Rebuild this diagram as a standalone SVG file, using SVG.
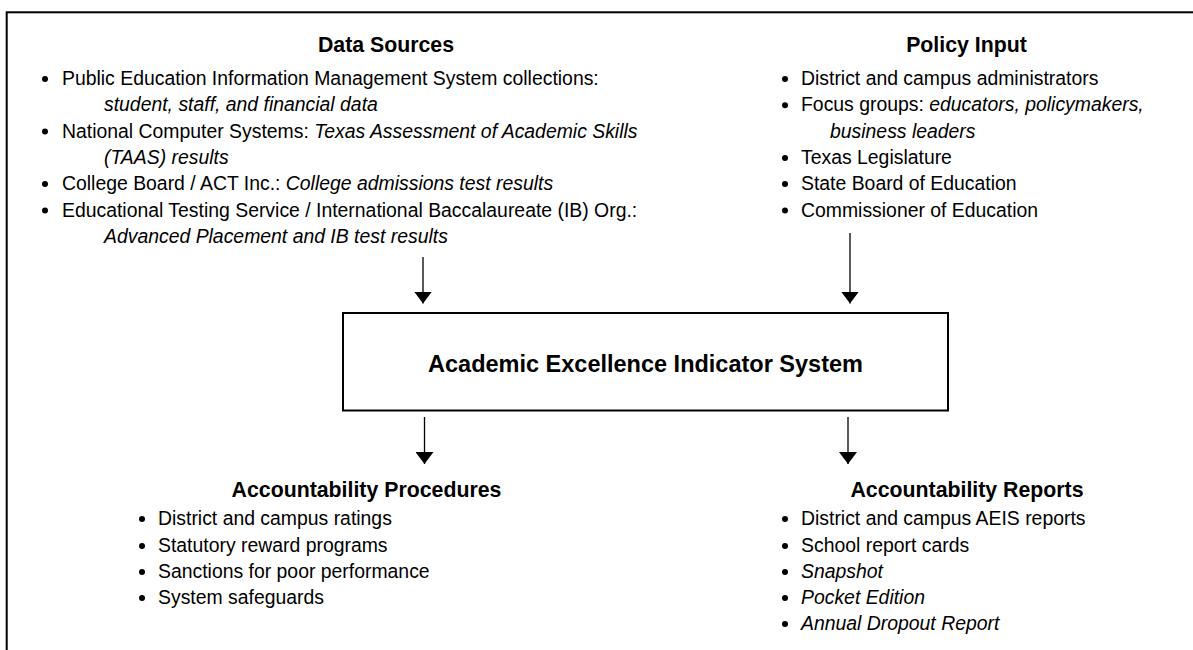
<svg xmlns="http://www.w3.org/2000/svg" width="1193" height="650" viewBox="0 0 1193 650">
<style>
text{font-family:"Liberation Sans",Arial,sans-serif;fill:#000}
.h{font-size:21.3px;font-weight:bold;text-anchor:middle}
.t{font-size:19.4px}
.i{font-style:italic}
.b{fill:#000}
.con{stroke:#000;stroke-width:1.3;fill:none}
</style>
<defs>
<marker id="ah" viewBox="0 0 12 18" refX="12" refY="9" markerWidth="12" markerHeight="18" markerUnits="userSpaceOnUse" orient="auto">
<path d="M0,0 L12,9 L0,18 Z" fill="#000"/>
</marker>
</defs>
<rect x="0" y="0" width="1193" height="650" fill="#fff"/>
<rect x="6.7" y="12.3" width="1250" height="700" fill="none" stroke="#000" stroke-width="2"/>

<g id="data-sources">
<text class="h" x="386" y="51.5">Data Sources</text>
<circle class="b" cx="45" cy="79" r="3"/>
<text class="t" x="62" y="85">Public Education Information Management System collections:</text>
<text class="t i" x="104" y="111.3">student, staff, and financial data</text>
<circle class="b" cx="45" cy="131.6" r="3"/>
<text class="t" x="62" y="137.6">National Computer Systems: <tspan class="i">Texas Assessment of Academic Skills</tspan></text>
<text class="t i" x="104" y="164">(TAAS) results</text>
<circle class="b" cx="45" cy="184" r="3"/>
<text class="t" x="62" y="190">College Board / ACT Inc.: <tspan class="i">College admissions test results</tspan></text>
<circle class="b" cx="45" cy="210.5" r="3"/>
<text class="t" x="62" y="216.5">Educational Testing Service / International Baccalaureate (IB) Org.:</text>
<text class="t i" x="104" y="243">Advanced Placement and IB test results</text>
</g>

<g id="policy-input">
<text class="h" x="966.5" y="51.5">Policy Input</text>
<circle class="b" cx="785" cy="79" r="3"/>
<text class="t" x="801" y="85">District and campus administrators</text>
<circle class="b" cx="785" cy="105.3" r="3"/>
<text class="t" x="801" y="111.3">Focus groups: <tspan class="i">educators, policymakers,</tspan></text>
<text class="t i" x="830" y="137.6">business leaders</text>
<circle class="b" cx="785" cy="158" r="3"/>
<text class="t" x="801" y="164">Texas Legislature</text>
<circle class="b" cx="785" cy="184" r="3"/>
<text class="t" x="801" y="190">State Board of Education</text>
<circle class="b" cx="785" cy="210.5" r="3"/>
<text class="t" x="801" y="216.5">Commissioner of Education</text>
</g>

<g id="aeis">
<rect x="343" y="313" width="605" height="97.5" fill="#fff" stroke="#000" stroke-width="2"/>
<text x="645.5" y="371.7" style="font-size:23.5px;font-weight:bold;text-anchor:middle">Academic Excellence Indicator System</text>
</g>

<g id="procedures">
<text class="h" x="366.5" y="496.7">Accountability Procedures</text>
<circle class="b" cx="142" cy="519" r="3"/>
<text class="t" x="158" y="525">District and campus ratings</text>
<circle class="b" cx="142" cy="546" r="3"/>
<text class="t" x="158" y="552">Statutory reward programs</text>
<circle class="b" cx="142" cy="572" r="3"/>
<text class="t" x="158" y="578">Sanctions for poor performance</text>
<circle class="b" cx="142" cy="598" r="3"/>
<text class="t" x="158" y="604">System safeguards</text>
</g>

<g id="reports">
<text class="h" x="967" y="496.7">Accountability Reports</text>
<circle class="b" cx="785" cy="519" r="3"/>
<text class="t" x="801" y="525">District and campus AEIS reports</text>
<circle class="b" cx="785" cy="546" r="3"/>
<text class="t" x="801" y="552">School report cards</text>
<circle class="b" cx="785" cy="572" r="3"/>
<text class="t i" x="801" y="578">Snapshot</text>
<circle class="b" cx="785" cy="598" r="3"/>
<text class="t i" x="801" y="604">Pocket Edition</text>
<circle class="b" cx="785" cy="624" r="3"/>
<text class="t i" x="801" y="630">Annual Dropout Report</text>
</g>

<g id="connectors">
<line class="con" x1="423" y1="257" x2="423" y2="303.5" marker-end="url(#ah)"/>
<line class="con" x1="850" y1="233" x2="850" y2="303.5" marker-end="url(#ah)"/>
<line class="con" x1="424.5" y1="417" x2="424.5" y2="464" marker-end="url(#ah)"/>
<line class="con" x1="848" y1="417" x2="848" y2="464" marker-end="url(#ah)"/>
</g>
</svg>
